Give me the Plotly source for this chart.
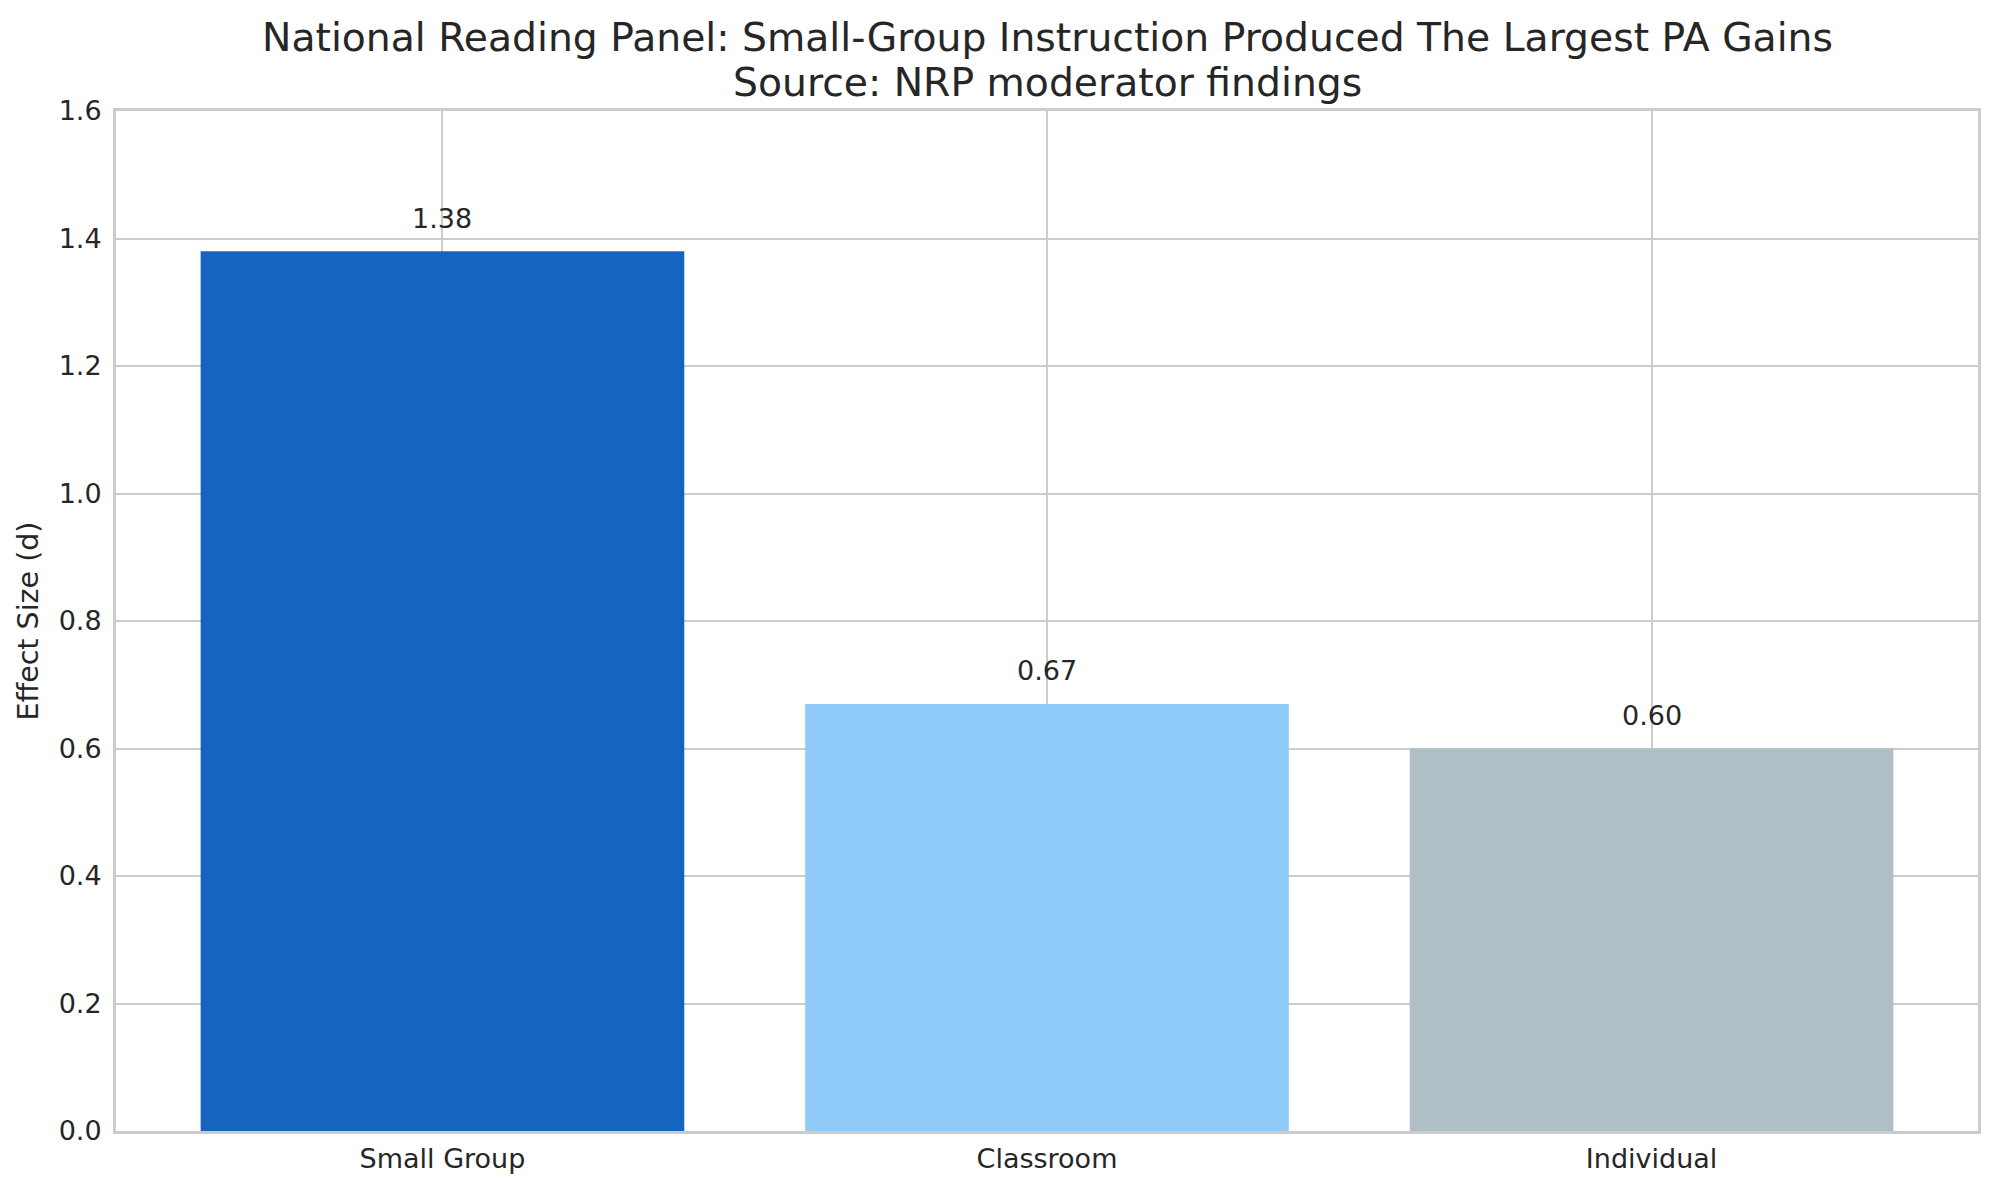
import plotly.graph_objects as go

categories = ["Small Group", "Classroom", "Individual"]
effect_sizes = [1.38, 0.67, 0.60]
bar_colors = ["#1565C0", "#90CAF9", "#B0BEC5"]

title_line1 = "National Reading Panel: Small-Group Instruction Produced The Largest PA Gains"
title_line2 = "Source: NRP moderator findings"

fig = go.Figure()
fig.add_trace(go.Bar(
    x=categories,
    y=effect_sizes,
    marker=dict(color=bar_colors, line=dict(width=0)),
    width=0.8,
    showlegend=False,
    hoverinfo="x+y",
))

# value labels above each bar
for cat, val in zip(categories, effect_sizes):
    fig.add_annotation(
        x=cat, y=val, text=f"{val:.2f}",
        showarrow=False, yanchor="middle", yshift=33,
        font=dict(size=27, color="#262626"),
    )

# two-line title, matplotlib-like line spacing
fig.add_annotation(xref="paper", yref="paper", x=0.5, y=1.0716, text=title_line1,
                   showarrow=False, xanchor="center", yanchor="middle",
                   font=dict(size=39.3, color="#262626"))
fig.add_annotation(xref="paper", yref="paper", x=0.5, y=1.0284, text=title_line2,
                   showarrow=False, xanchor="center", yanchor="middle",
                   font=dict(size=39.3, color="#262626"))

# page body has an 8px margin, so the figure is made 8px smaller
fig.update_layout(
    width=1991, height=1183,
    paper_bgcolor="white", plot_bgcolor="white",
    font=dict(family="DejaVu Sans", color="#262626"),
    margin=dict(l=108, r=21, t=103, b=60),
    xaxis=dict(
        range=[-0.54, 2.54],
        showgrid=True, gridcolor="#cccccc", gridwidth=2,
        showline=True, linecolor="#cccccc", linewidth=3, mirror=True,
        ticks="", tickfont=dict(size=27, color="#262626"),
        ticklabelstandoff=2,
        zeroline=False,
    ),
    yaxis=dict(
        range=[0, 1.6], dtick=0.2, tickformat=".1f",
        showgrid=True, gridcolor="#cccccc", gridwidth=2,
        showline=True, linecolor="#cccccc", linewidth=3, mirror=True,
        ticks="", tickfont=dict(size=27, color="#262626"),
        ticklabelstandoff=6,
        zeroline=False,
        title=dict(text="Effect Size (d)", font=dict(size=28.5, color="#262626"), standoff=12),
    ),
    bargap=0.2,
)

fig.write_html("out.html")
